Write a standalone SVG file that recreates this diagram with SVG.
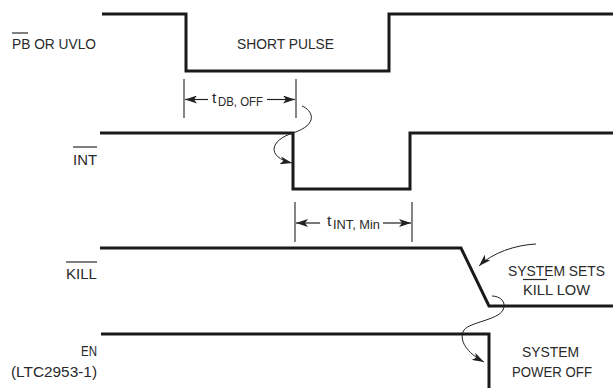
<svg xmlns="http://www.w3.org/2000/svg" width="613" height="388" viewBox="0 0 613 388">
<defs>
<style>
.wave{fill:none;stroke:#1a1a1a;stroke-width:3;stroke-linejoin:miter}
.tick{fill:none;stroke:#333;stroke-width:1.2}
.dim{fill:none;stroke:#222;stroke-width:1.2}
.cur{fill:none;stroke:#222;stroke-width:1}
.lbl{font-family:"Liberation Sans",Arial,sans-serif;font-size:15.5px;fill:#2a2a2a}
.sub{font-family:"Liberation Sans",Arial,sans-serif;font-size:12px;fill:#2a2a2a}
.ov{stroke:#2a2a2a;stroke-width:1.2}
</style>
<marker id="ah" viewBox="0 0 12 8" refX="12" refY="4" markerWidth="12" markerHeight="8" markerUnits="userSpaceOnUse" orient="auto">
<path d="M0,0 L12,4 L0,8 L3,4 Z" fill="#222"/>
</marker>
</defs>

<g id="pb-uvlo">
<polyline class="wave" points="102,14 186,14 186,71 389,71 389,14 613,14"/>
<text class="lbl" x="12" y="49" textLength="84" lengthAdjust="spacingAndGlyphs">PB OR UVLO</text>
<line class="ov" x1="12" y1="33" x2="28" y2="33"/>
<text class="lbl" x="237" y="49" textLength="97" lengthAdjust="spacingAndGlyphs">SHORT PULSE</text>
</g>

<g id="int">
<polyline class="wave" points="100,133 293,133 293,189 410,189 410,133 613,133"/>
<text class="lbl" x="73" y="165" textLength="24" lengthAdjust="spacingAndGlyphs">INT</text>
<line class="ov" x1="73" y1="147" x2="97" y2="147"/>
</g>

<g id="kill">
<polyline class="wave" points="100,248 461,248 489,306 613,306"/>
<text class="lbl" x="66" y="279" textLength="31" lengthAdjust="spacingAndGlyphs">KILL</text>
<line class="ov" x1="66" y1="262" x2="97" y2="262"/>
<text class="lbl" x="508" y="276" style="font-size:14.8px" textLength="97" lengthAdjust="spacingAndGlyphs">SYSTEM SETS</text>
<text class="lbl" x="523" y="295" textLength="67" lengthAdjust="spacingAndGlyphs">KILL LOW</text>
<line class="ov" x1="523" y1="279.5" x2="547" y2="279.5"/>
</g>

<g id="en">
<polyline class="wave" points="101,334 489,334 489,388"/>
<text class="lbl" x="81" y="356" textLength="16" lengthAdjust="spacingAndGlyphs">EN</text>
<text class="lbl" x="11" y="377" textLength="86" lengthAdjust="spacingAndGlyphs">(LTC2953-1)</text>
<text class="lbl" x="522" y="357" textLength="57" lengthAdjust="spacingAndGlyphs">SYSTEM</text>
<text class="lbl" x="512" y="377" textLength="80" lengthAdjust="spacingAndGlyphs">POWER OFF</text>
</g>

<g id="t-db-off">
<line class="tick" x1="184" y1="79" x2="184" y2="118"/>
<line class="tick" x1="296" y1="79" x2="296" y2="118"/>
<text class="lbl" x="212" y="103">t</text>
<text class="sub" x="218" y="106" textLength="45" lengthAdjust="spacingAndGlyphs">DB, OFF</text>
</g>

<g id="t-int-min">
<line class="tick" x1="295" y1="202" x2="295" y2="242"/>
<line class="tick" x1="412" y1="202" x2="412" y2="242"/>
<text class="lbl" x="327" y="226">t</text>
<text class="sub" x="333" y="229" textLength="47" lengthAdjust="spacingAndGlyphs">INT, Min</text>
</g>

<g id="connectors">
<line class="dim" x1="208" y1="99.5" x2="185" y2="99.5" marker-end="url(#ah)"/>
<line class="dim" x1="267" y1="99.5" x2="295" y2="99.5" marker-end="url(#ah)"/>
<line class="dim" x1="320" y1="223" x2="296" y2="223" marker-end="url(#ah)"/>
<line class="dim" x1="383" y1="223" x2="411" y2="223" marker-end="url(#ah)"/>
<path class="cur" d="M302,106 C312,110 320,124 293,133 C270,140 266,157 292,163" marker-end="url(#ah)"/>
<path class="cur" d="M536,244 C515,245 492,253 479,266" marker-end="url(#ah)"/>
<path class="cur" d="M492,296 C500,296 507,302 503,310 C498,320 470,322 464,330 C458,340 467,353 484,362" marker-end="url(#ah)"/>
</g>
</svg>
